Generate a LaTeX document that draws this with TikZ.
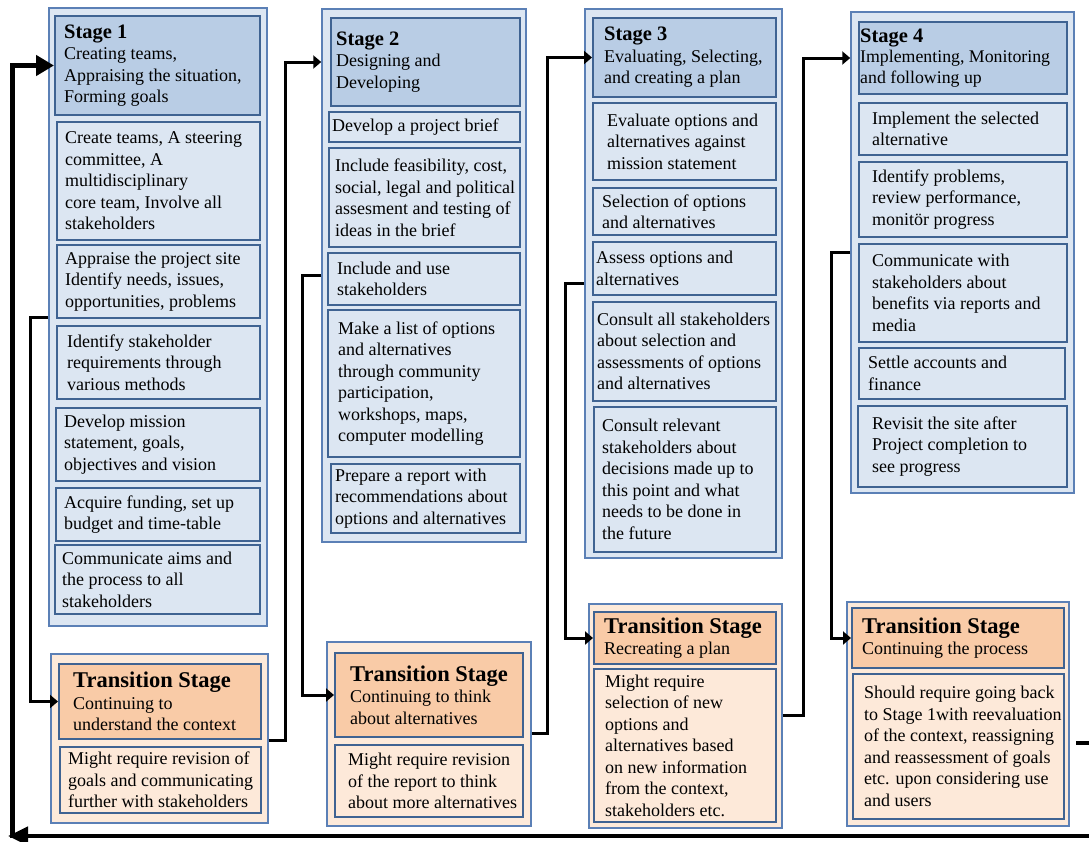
\documentclass[tikz,border=0pt]{standalone}
\usepackage{fontspec}
\setmainfont{Liberation Serif}
\usetikzlibrary{arrows.meta}
\definecolor{outerB}{HTML}{DCE6F2}
\definecolor{headB}{HTML}{B9CDE5}
\definecolor{itemB}{HTML}{DCE6F2}
\definecolor{bordL}{HTML}{5B80B6}
\definecolor{bordD}{HTML}{3F6392}
\definecolor{peachL}{HTML}{FDEADA}
\definecolor{orangeH}{HTML}{F9CBA7}
\definecolor{peachB}{HTML}{FDE9D9}
\tikzset{
 outerbox/.style={draw=bordL, fill=outerB, line width=1.5pt},
 headbox/.style={draw=bordD, fill=headB, line width=2pt},
 itembox/.style={draw=bordD, fill=itemB, line width=2pt},
 outerpeach/.style={draw=bordL, fill=peachL, line width=1.5pt},
 headorange/.style={draw=bordD, fill=orangeH, line width=2pt},
 bodypeach/.style={draw=bordD, fill=peachB, line width=2pt},
 txt/.style={align=left, inner sep=0pt, font=\fontsize{18}{21.5}\selectfont, text=black},
 conn/.style={line width=3pt, -{Triangle[length=8pt,width=13pt]}},
 loopline/.style={line width=4.5pt},
}
\newcommand\stg[1]{{\fontsize{20.5}{22}\selectfont\bfseries #1}}
\newcommand\trs{{\fontsize{22.5}{24}\selectfont\bfseries Transition Stage}}
\newcommand\pbox[8]{%
 \pgfmathsetmacro\pbcx{(#3+#5)/2}%
 \pgfmathsetmacro\pbcy{(#4+#6)/2}%
 \pgfmathsetmacro\pbw{#5-#3}%
 \pgfmathsetmacro\pbh{#6-#4}%
 \node[#2, inner sep=0pt, minimum width=\pbw pt, minimum height=\pbh pt,
   label={[txt, anchor=west, #7]west:{#8}}] (#1) at (\pbcx,\pbcy) {};}
\begin{document}
\begin{tikzpicture}[x=1pt, y=-1pt]
\useasboundingbox (0,0) rectangle (1089,841);
% ---------- Stage 1
\pbox{s1}{outerbox}{49}{8}{267}{626}{}{}
\pbox{s1h}{headbox}{55}{16}{260}{115}{xshift=10pt}{\stg{Stage 1}\\Creating teams,\\Appraising the situation,\\Forming goals}
\pbox{s1a}{itembox}{57}{122}{260}{240}{xshift=9pt}{Create teams, A steering\\committee, A\\multidisciplinary\\core team, Involve all\\stakeholders}
\pbox{s1b}{itembox}{57}{245}{260}{318}{xshift=9pt}{Appraise the project site\\Identify needs, issues,\\opportunities, problems}
\pbox{s1c}{itembox}{57}{326}{260}{399}{xshift=11pt}{Identify stakeholder\\requirements through\\various methods}
\pbox{s1d}{itembox}{56}{408}{260}{481}{xshift=9pt}{Develop mission\\statement, goals,\\objectives and vision}
\pbox{s1e}{itembox}{56}{488}{260}{541}{xshift=9pt}{Acquire funding, set up\\budget and time-table}
\pbox{s1f}{itembox}{55}{545}{260}{614}{xshift=8pt}{Communicate aims and\\the process to all\\stakeholders}
% ---------- Transition 1
\pbox{t1}{outerpeach}{51}{654}{268}{823}{}{}
\pbox{t1h}{headorange}{59}{664}{261}{739}{xshift=15pt}{\trs\\Continuing to\\understand the context}
\pbox{t1b}{bodypeach}{60}{747}{261}{813}{xshift=9pt}{Might require revision of\\goals and communicating\\further with stakeholders}
% ---------- Stage 2
\pbox{s2}{outerbox}{322}{9}{526}{542}{}{}
\pbox{s2h}{headbox}{331}{18}{520}{106}{xshift=6pt}{\stg{Stage 2}\\Designing and\\Developing}
\pbox{s2a}{itembox}{329}{112}{520}{142}{xshift=4pt}{Develop a project brief}
\pbox{s2b}{itembox}{329}{148}{520}{247}{xshift=7pt}{Include feasibility, cost,\\social, legal and political\\assesment and testing of\\ideas in the brief}
\pbox{s2c}{itembox}{328}{253}{520}{305}{xshift=10pt}{Include and use\\stakeholders}
\pbox{s2d}{itembox}{328}{310}{520}{457}{xshift=11pt}{Make a list of options\\and alternatives\\through community\\participation,\\workshops, maps,\\computer modelling}
\pbox{s2e}{itembox}{331}{464}{520}{533}{xshift=5pt}{Prepare a report with\\recommendations about\\options and alternatives}
% ---------- Transition 2
\pbox{t2}{outerpeach}{327}{642}{531}{826}{}{}
\pbox{t2h}{headorange}{335}{653}{523}{737}{xshift=16pt}{\trs\\Continuing to think\\about alternatives}
\pbox{t2b}{bodypeach}{335}{745}{523}{817}{xshift=14pt}{Might require revision\\of the report to think\\about more alternatives}
% ---------- Stage 3
\pbox{s3}{outerbox}{585}{9}{782}{558}{}{}
\pbox{s3h}{headbox}{593}{18}{776}{97}{xshift=12pt}{\stg{Stage 3}\\Evaluating, Selecting,\\and creating a plan}
\pbox{s3a}{itembox}{593}{103}{776}{180}{xshift=15pt}{Evaluate options and\\alternatives against\\mission statement}
\pbox{s3b}{itembox}{593}{188}{776}{235}{xshift=10pt}{Selection of options\\and alternatives}
\pbox{s3c}{itembox}{593}{242}{776}{295}{xshift=4pt}{Assess options and\\alternatives}
\pbox{s3d}{itembox}{593}{302}{776}{401}{xshift=5pt}{Consult all stakeholders\\about selection and\\assessments of options\\and alternatives}
\pbox{s3e}{itembox}{594}{407}{776}{552}{xshift=9pt}{Consult relevant\\stakeholders about\\decisions made up to\\this point and what\\needs to be done in\\the future}
% ---------- Transition 3
\pbox{t3}{outerpeach}{589}{604}{782}{828}{}{}
\pbox{t3h}{headorange}{594}{612}{776}{664}{xshift=11pt}{\trs\\Recreating a plan}
\pbox{t3b}{bodypeach}{594}{669}{776}{822}{xshift=12pt}{Might require\\selection of new\\options and\\alternatives based\\on new information\\from the context,\\stakeholders etc.}
% ---------- Stage 4
\pbox{s4}{outerbox}{851}{12}{1074}{493}{}{}
\pbox{s4h}{headbox}{859}{22}{1067}{94}{xshift=2pt, font=\fontsize{17.8}{20.5}\selectfont}{\stg{Stage 4}\\Implementing, Monitoring\\and following up}
\pbox{s4a}{itembox}{859}{103}{1067}{155}{xshift=14pt}{Implement the selected\\alternative}
\pbox{s4b}{itembox}{859}{162}{1067}{237}{xshift=14pt}{Identify problems,\\review performance,\\monitör progress}
\pbox{s4c}{itembox}{859}{244}{1067}{342}{xshift=14pt}{Communicate with\\stakeholders about\\benefits via reports and\\media}
\pbox{s4d}{itembox}{859}{348}{1065}{399}{xshift=10pt}{Settle accounts and\\finance}
\pbox{s4e}{itembox}{858}{406}{1067}{487}{xshift=15pt}{Revisit the site after\\Project completion to\\see progress}
% ---------- Transition 4
\pbox{t4}{outerpeach}{847}{602}{1069}{826}{}{}
\pbox{t4h}{headorange}{852}{608}{1064}{668}{xshift=11pt}{\trs\\Continuing the process}
\pbox{t4b}{bodypeach}{853}{674}{1064}{819}{xshift=12pt}{Should require going back\\to Stage 1with reevaluation\\of the context, reassigning\\and reassessment of goals\\etc. upon considering use\\and users}
% ---------- connectors
\draw[conn] (s1.west) -- ++(-18,0) |- (t1h.west);
\draw[conn] (t1.east |- t1h.south) -- ++(17,0) |- (s2h.west -| s2.west);
\draw[conn] (s2.west) -- ++(-19,0) |- (t2h.west);
\draw[conn] (t2.east |- 0,733) -- ++(16,0) |- (s3h.west);
\draw[conn] (s3.west) -- ++(-19,0) |- (t3h.west);
\draw[conn] (t3.east |- 0,715) -- ++(21,0) |- (s4h.west -| s4.west);
\draw[conn] (s4.west) -- ++(-19,0) |- (t4h.west);
% ---------- loop back to stage 1
\coordinate (stubA) at (1076,743);
\coordinate (stubB) at (1089,743);
\coordinate (loopR) at (1089,836);
\coordinate (loopL) at (8,836);
\coordinate (loopC) at (12.5,838);
\draw[loopline] (stubA) -- (stubB);
\draw[loopline, -{Triangle[length=20pt,width=18pt]}] (loopR) -- (loopL);
\draw[loopline, -{Triangle[length=18pt,width=20pt]}] (loopC) |- (s1h.west);
\end{tikzpicture}
\end{document}
